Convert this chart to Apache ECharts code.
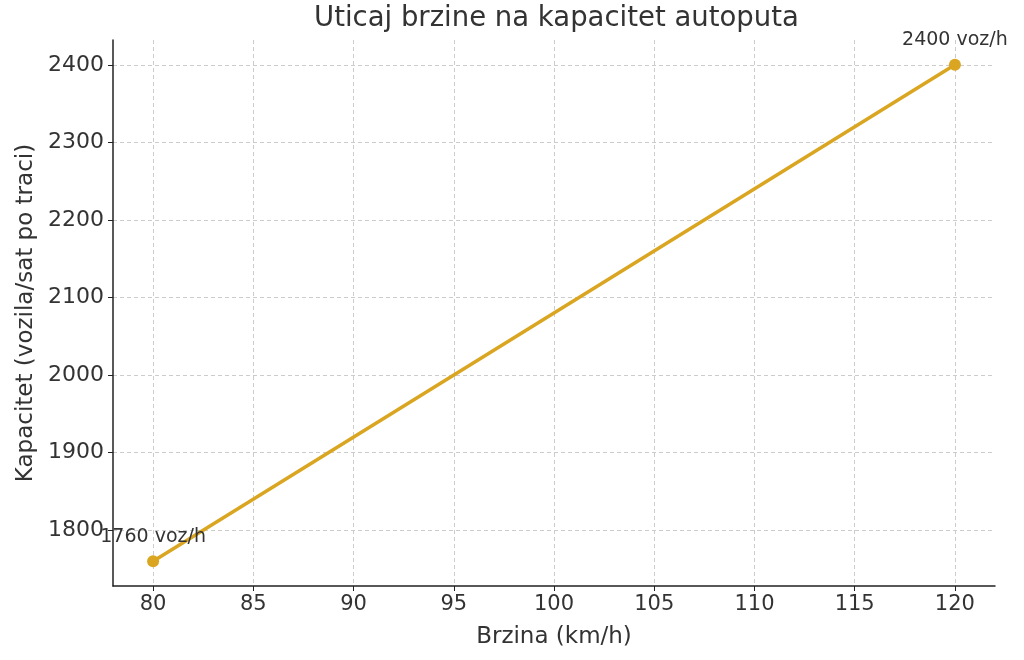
<!DOCTYPE html>
<html>
<head>
<meta charset="utf-8">
<script src="https://cdn.jsdelivr.net/npm/echarts@6/dist/echarts.min.js"></script>
<style>html,body{margin:0;padding:0;background:#fff;}#c{width:1024px;height:660px;}</style>
</head>
<body>
<div id="c"></div>
<script>
const speeds = [80, 120];
const capacity = [1760, 2400];
const pointLabels = ['1760 voz/h', '2400 voz/h'];
const xTicks = [80, 85, 90, 95, 100, 105, 110, 115, 120];
const yTicks = [1800, 1900, 2000, 2100, 2200, 2300, 2400];

const font = 'DejaVu Sans';
const chart = echarts.init(document.getElementById('c'));
chart.setOption({
  animation: false,
  backgroundColor: '#fff',
  title: {
    text: 'Uticaj brzine na kapacitet autoputa',
    left: 309, top: 0,
    textStyle: {fontFamily: font, fontSize: 27.5, fontWeight: 'normal', color: '#333'}
  },
  grid: {left: 113, right: 29, top: 40, bottom: 74},
  xAxis: {
    type: 'value', min: 78, max: 122, interval: 5,
    name: 'Brzina (km/h)', nameLocation: 'middle', nameGap: 40,
    nameTextStyle: {fontFamily: font, fontSize: 23, color: '#333'},
    axisLine: {show: true, onZero: false, lineStyle: {color: '#222', width: 1.5}},
    axisTick: {show: true, length: 5, lineStyle: {color: '#222'}, customValues: xTicks},
    axisLabel: {fontFamily: font, fontSize: 21, color: '#333', margin: 8, customValues: xTicks, formatter: v => String(v)},
    splitLine: {show: true, lineStyle: {color: '#ccc', type: [4, 3], width: 1}, customValues: xTicks}
  },
  yAxis: {
    type: 'value', min: 1728, max: 2432,
    name: 'Kapacitet (vozila/sat po traci)', nameLocation: 'middle', nameGap: 68,
    nameTextStyle: {fontFamily: font, fontSize: 23, color: '#333'},
    axisLine: {show: true, onZero: false, lineStyle: {color: '#222', width: 1.5}},
    axisTick: {show: true, length: 5, lineStyle: {color: '#222'}, customValues: yTicks},
    axisLabel: {fontFamily: font, fontSize: 22, color: '#333', margin: 9, customValues: yTicks, formatter: v => String(v)},
    splitLine: {show: true, lineStyle: {color: '#ccc', type: [4, 3], width: 1}, customValues: yTicks}
  },
  series: [{
    type: 'line',
    data: speeds.map((s, i) => [s, capacity[i]]),
    symbol: 'circle', symbolSize: 12,
    lineStyle: {color: '#DAA520', width: 3.5},
    itemStyle: {color: '#DAA520'},
    label: {
      show: true, position: 'top', distance: 9,
      fontFamily: font, fontSize: 19, color: '#333',
      formatter: p => pointLabels[p.dataIndex]
    }
  }]
});
</script>
</body>
</html>
